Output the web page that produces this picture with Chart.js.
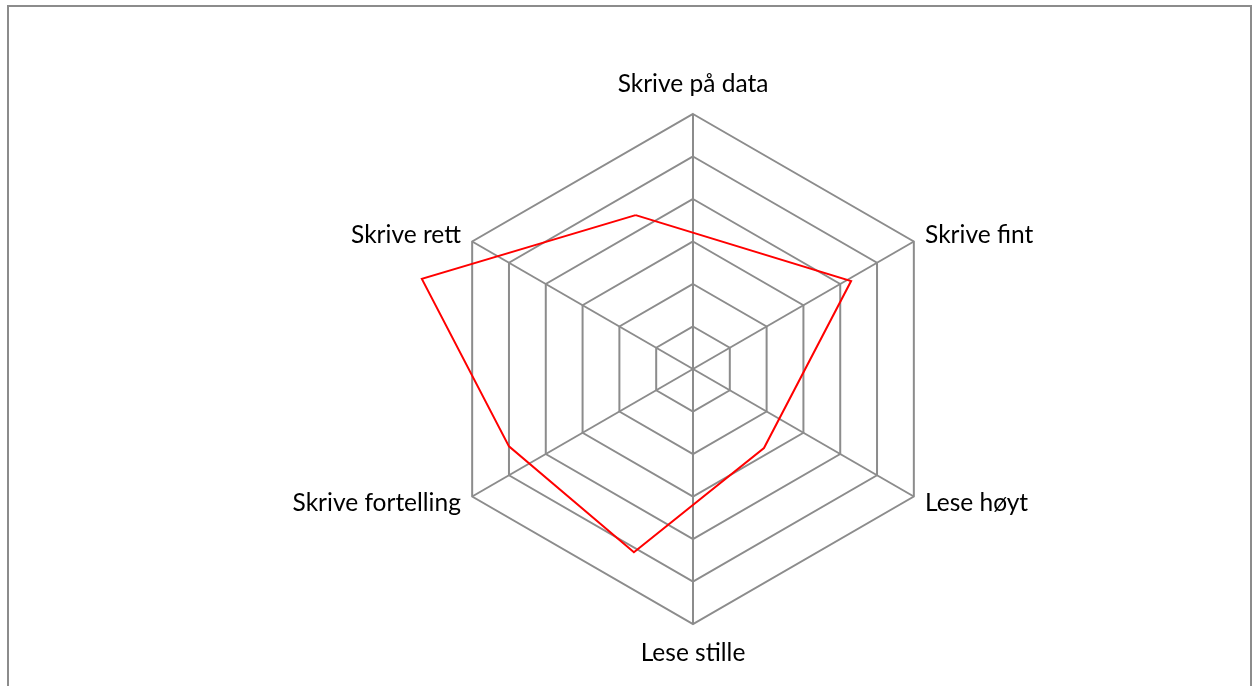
<!DOCTYPE html>
<html>
<head>
<meta charset="utf-8">
<script src="https://cdn.jsdelivr.net/npm/chart.js@4/dist/chart.umd.min.js"></script>
<style>
	html, body { margin: 0; padding: 0; background: #fff; }
	#wrap { position: relative; width: 1260px; height: 686px; overflow: hidden; }
	#frame { position: absolute; left: 7px; top: 5px; width: 1245px; height: 700px; border: 2px solid #8c8c8c; box-sizing: border-box; }
	#radar { position: absolute; left: 0; top: 0; }
</style>
</head>
<body>
<div id="wrap">
	<div id="frame"></div>
	<canvas id="radar" width="1260" height="686"></canvas>
</div>
<script>
// categories round the web, clockwise from the top
var categories = ['Skrive på data', 'Skrive fint', 'Lese høyt', 'Lese stille', 'Skrive fortelling', 'Skrive rett'];

// value axis: six rings
var axisMin = 0;
var axisMax = 6;
var axisStep = 1;

// red outline in ring units (x to the right, y upwards from the centre)
var redX = [-1.35, 3.72, 1.67, -1.39, -4.33, -6.38];
var redY = [3.62, 2.07, -1.86, -4.31, -1.82, 2.12];

var gridColor = '#8c8c8c';
var fontFamily = 'Lato, "Liberation Sans", sans-serif';

function loadChart() {
	var redPoints = redX.map(function (x, i) {
		return { x: x, y: redY[i] };
	});
	redPoints.push({ x: redX[0], y: redY[0] });

	// make the hidden x/y scales share the radial scale's centre and ring size
	var alignPlugin = {
		id: 'alignToRadar',
		afterLayout: function (chart) {
			var r = chart.scales.r;
			var sx = chart.scales.x;
			var sy = chart.scales.y;
			var unit = r.drawingArea / (axisMax - axisMin);
			sx.min = (sx.left - r.xCenter) / unit;
			sx.max = (sx.right - r.xCenter) / unit;
			sy.min = (r.yCenter - sy.bottom) / unit;
			sy.max = (r.yCenter - sy.top) / unit;
			sx.configure();
			sy.configure();
		}
	};

	var canvas = document.getElementById('radar');
	new Chart(canvas, {
		type: 'radar',
		data: {
			labels: categories,
			datasets: [{
				type: 'scatter',
				label: 'Serie',
				data: redPoints,
				indexAxis: 'x',
				showLine: true,
				borderColor: '#ff0000',
				borderWidth: 2,
				pointRadius: 0,
				fill: false,
				xAxisID: 'x',
				yAxisID: 'y',
				clip: false
			}]
		},
		options: {
			responsive: false,
			animation: false,
			layout: {
				padding: { left: 126, right: 0, top: 71, bottom: 18 }
			},
			plugins: {
				legend: { display: false },
				tooltip: { enabled: false }
			},
			scales: {
				r: {
					min: axisMin,
					max: axisMax,
					ticks: { display: false, stepSize: axisStep },
					grid: { circular: false, color: gridColor, lineWidth: 2 },
					angleLines: { display: true, color: gridColor, lineWidth: 2 },
					pointLabels: {
						color: '#000',
						padding: function (ctx) {
							return ctx.index % 3 === 0 ? 16 : 13;
						},
						font: function (ctx) {
							return {
								family: fontFamily,
								size: 24.5,
								lineHeight: ctx.index % 3 === 0 ? '27px' : 0
							};
						}
					}
				},
				x: { type: 'linear', display: false },
				y: { type: 'linear', display: false }
			}
		},
		plugins: [alignPlugin]
	});
}

loadChart();
</script>
</body>
</html>
